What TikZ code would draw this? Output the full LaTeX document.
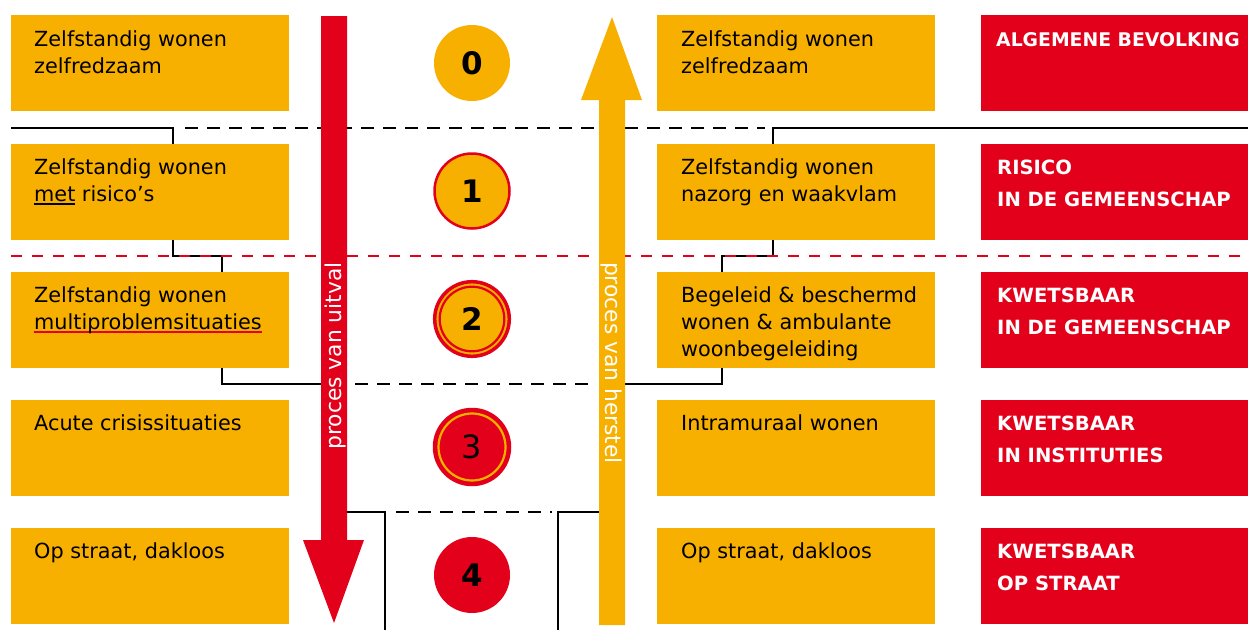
\documentclass[tikz,border=0pt]{standalone}
\usepackage{fontspec}
\setmainfont{DejaVu Sans}
\definecolor{org}{HTML}{F8B000}
\definecolor{rd}{HTML}{E2001A}
\newcommand\myul[2]{\begingroup\setbox0\hbox{#2}\rlap{\color{#1}\rule[-3.5pt]{\wd0}{1.3pt}}\box0\endgroup}
\tikzset{
  obox/.style={fill=org, minimum width=278pt, minimum height=96pt, anchor=north west, inner sep=0pt},
  rbox/.style={fill=rd, minimum width=267pt, minimum height=96pt, anchor=north west, inner sep=0pt},
  otxt/.style={anchor=north west, inner sep=0pt, align=left, font=\fontsize{20.8}{27}\selectfont, text=black},
  rtxt/.style={anchor=north west, inner sep=0pt, align=left, font=\fontsize{19.6}{32}\selectfont\bfseries, text=white},
  sep/.style={line width=2.4pt, black},
  sepdash/.style={line width=2.4pt, black, dash pattern=on 13pt off 9pt},
  reddash/.style={line width=2.6pt, rd, dash pattern=on 11pt off 10pt},
  num/.style={font=\fontsize{31}{31}\selectfont\bfseries, text=black},
  atxt/.style={font=\fontsize{21.8}{22}\selectfont, text=white, inner sep=0pt}
}
\begin{document}
\begin{tikzpicture}[x=1pt,y=-1pt]
\useasboundingbox (0,0) rectangle (1248,630);
% boxes
\foreach \i/\y in {0/15,1/144,2/272,3/400,4/528}{
  \node[obox] (L\i) at (11,\y) {};
  \node[obox] (R\i) at (657,\y) {};
  \node[rbox] (K\i) at (981,\y) {};
}
% separator lines
\draw[sep] (11,128) -- (173,128) -- (173,144);
\draw[sepdash] (185,128) -- (765,128);
\draw[sep] (773,144) -- (773,128) -- (1248,128);
\draw[sep] (173,240) -- (173,256) -- (222,256) -- (222,272);
\draw[sep] (773,240) -- (773,256) -- (722,256) -- (722,272);
\draw[sep] (222,368) -- (222,384) -- (330,384);
\draw[sepdash] (355,384) -- (595,384);
\draw[sep] (612,384) -- (722,384) -- (722,368);
\draw[sep] (340,512) -- (385,512) -- (385,630);
\draw[sepdash] (396,512) -- (552,512);
\draw[sep] (558,630) -- (558,512) -- (605,512);
\draw[reddash] (11,256) -- (1248,256);
% arrows
\fill[rd] (321,16) -- (347,16) -- (347,540) -- (364,540) -- (334,623) -- (303,540) -- (321,540) -- cycle;
\fill[org] (599,625) -- (599,100) -- (581,100) -- (612,17) -- (642,100) -- (625,100) -- (625,625) -- cycle;
\node[atxt, rotate=90] (up) at (335,356) {proces van uitval};
\node[atxt, rotate=-90] (down) at (612,363) {proces van herstel};
% circles
\fill[org] (472,63) circle (38);
\node[num] (C0) at (472,63) {0};
\draw[rd, fill=org, line width=2.5pt] (472,191) circle (37.5);
\node[num] (C1) at (472,191) {1};
\draw[rd, fill=org, line width=3.5pt] (472,319) circle (37.3);
\draw[rd, line width=2.2pt] (472,319) circle (32.3);
\node[num] (C2) at (472,319) {2};
\draw[rd, fill=rd, line width=2.5pt] (472,447) circle (38);
\draw[org, line width=2.2pt] (472,447) circle (33.5);
\node[num, font=\fontsize{32}{32}\selectfont] (C3) at (472,447) {3};
\fill[rd] (472,575) circle (38);
\node[num] (C4) at (472,575) {4};
% texts left
\node[otxt] at (34,26) {\rule{0pt}{20pt}Zelfstandig wonen\\zelfredzaam};
\node[otxt] at (34,154) {\rule{0pt}{20pt}Zelfstandig wonen\\\myul{black}{met} risico’s};
\node[otxt] at (34,282) {\rule{0pt}{20pt}Zelfstandig wonen\\\myul{rd}{multiproblemsituaties}};
\node[otxt] at (34,410) {\rule{0pt}{20pt}Acute crisissituaties};
\node[otxt] at (34,538) {\rule{0pt}{20pt}Op straat, dakloos};
% texts right
\node[otxt] at (681,26) {\rule{0pt}{20pt}Zelfstandig wonen\\zelfredzaam};
\node[otxt] at (681,154) {\rule{0pt}{20pt}Zelfstandig wonen\\nazorg en waakvlam};
\node[otxt] at (681,282) {\rule{0pt}{20pt}Begeleid \& beschermd\\wonen \& ambulante\\woonbegeleiding};
\node[otxt] at (681,410) {\rule{0pt}{20pt}Intramuraal wonen};
\node[otxt] at (681,538) {\rule{0pt}{20pt}Op straat, dakloos};
% texts red
\node[rtxt, font=\fontsize{18.8}{32}\selectfont\bfseries] at (996,26) {\rule{0pt}{20pt}ALGEMENE BEVOLKING};
\node[rtxt] at (997,154) {\rule{0pt}{20pt}RISICO\\IN DE GEMEENSCHAP};
\node[rtxt] at (997,282) {\rule{0pt}{20pt}KWETSBAAR\\IN DE GEMEENSCHAP};
\node[rtxt] at (997,410) {\rule{0pt}{20pt}KWETSBAAR\\IN INSTITUTIES};
\node[rtxt] at (997,538) {\rule{0pt}{20pt}KWETSBAAR\\OP STRAAT};
\end{tikzpicture}
\end{document}
